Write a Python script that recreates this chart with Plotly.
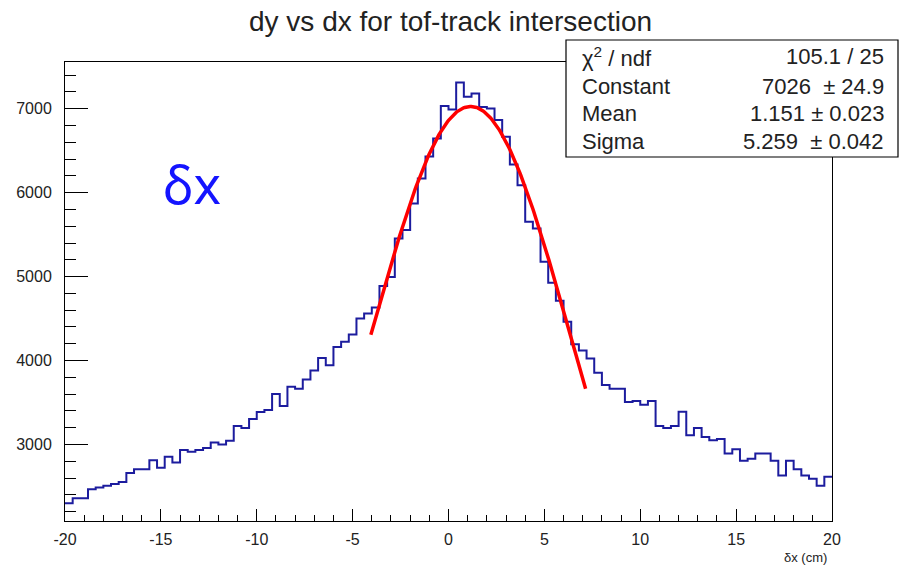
import numpy as np
import plotly.graph_objects as go

# ---------------- data ----------------
x_min, x_max, n_bins = -20.0, 20.0, 100
counts = [2300, 2360, 2360, 2467, 2490, 2510, 2530, 2554, 2661, 2705,
          2705, 2812, 2724, 2855, 2788, 2935, 2914, 2935, 2958, 3026,
          3002, 3045, 3220, 3196, 3304, 3387, 3411, 3601, 3458, 3688,
          3664, 3776, 3883, 4030, 3943, 4161, 4224, 4312, 4502, 4562,
          4633, 4887, 4994, 5455, 5554, 5871, 6169, 6430, 6645, 7030,
          6990, 7312, 7141, 7181, 7020, 7002, 6863, 6664, 6336, 6089,
          5652, 5574, 5176, 4926, 4712, 4462, 4193, 4121, 4026, 3855,
          3708, 3664, 3664, 3506, 3518, 3474, 3518, 3220, 3196, 3220,
          3391, 3110, 3196, 3089, 3050, 3065, 2895, 2943, 2807, 2831,
          2895, 2895, 2807, 2633, 2807, 2705, 2633, 2593, 2510, 2617]

# Gaussian fit parameters (from the stats box)
fit_constant, fit_mean, fit_sigma = 7026.0, 1.151, 5.259
fit_range = [-4.05, 7.15]

stats_labels = ["χ<sup>2</sup> / ndf", "Constant", "Mean", "Sigma"]
stats_values = ["105.1 / 25", "7026  ± 24.9", "1.151 ± 0.023", "5.259  ± 0.042"]

title_text = "dy vs dx for tof-track intersection"
x_title = "δx (cm)"
big_label = "δx"

x_tickvals = [-20, -15, -10, -5, 0, 5, 10, 15, 20]
x_ticktext = ["-20", "-15", "-10", "-5", "0", "5", "10", "15", "20"]
y_tickvals = [3000, 4000, 5000, 6000, 7000]
y_ticktext = ["3000", "4000", "5000", "6000", "7000"]
y_range = [2090, 7555]

# ---------------- figure ----------------
edges = np.linspace(x_min, x_max, n_bins + 1)
step_x = list(edges)
step_y = list(counts) + [counts[-1]]

fx = np.linspace(fit_range[0], fit_range[1], 200)
fy = fit_constant * np.exp(-0.5 * ((fx - fit_mean) / fit_sigma) ** 2)

FONT = "Liberation Sans, Arial, Helvetica, sans-serif"
TXT = "#222222"

fig = go.Figure()
fig.add_trace(go.Scatter(x=step_x, y=step_y, mode="lines", line_shape="hv",
                         line=dict(color="#1c1c9e", width=2), hoverinfo="skip"))
fig.add_trace(go.Scatter(x=fx, y=fy, mode="lines",
                         line=dict(color="#ff0000", width=3.5), hoverinfo="skip"))

W, H = 899, 565
L, R, T, B = 65, 67, 62, 44
pw, ph = W - L - R, H - T - B

def px(xp):
    return (xp - L) / pw

def py(yp):
    return (H - B - yp) / ph

fig.update_layout(
    width=W, height=H, autosize=False,
    margin=dict(l=L, r=R, t=T, b=B, pad=0),
    paper_bgcolor="white", plot_bgcolor="white",
    showlegend=False,
    font=dict(family=FONT, color=TXT),
    xaxis=dict(range=[x_min, x_max], tickvals=x_tickvals, ticktext=x_ticktext,
               ticks="inside", ticklen=12, tickwidth=1, tickcolor="black",
               showline=True, linecolor="black", linewidth=1, mirror=True,
               showgrid=False, zeroline=False,
               tickfont=dict(size=16, family=FONT, color=TXT),
               ticklabelstandoff=4,
               minor=dict(dtick=1, ticks="inside", ticklen=6, tickcolor="black", showgrid=False)),
    yaxis=dict(range=y_range, tickvals=y_tickvals, ticktext=y_ticktext,
               ticks="inside", ticklen=23, tickwidth=1, tickcolor="black",
               showline=True, linecolor="black", linewidth=1, mirror=True,
               showgrid=False, zeroline=False,
               tickfont=dict(size=16, family=FONT, color=TXT),
               ticklabelstandoff=9,
               minor=dict(dtick=200, ticks="inside", ticklen=11, tickcolor="black", showgrid=False)),
)

# stats box
fig.add_shape(type="rect", xref="paper", yref="paper",
              x0=px(566), x1=px(898), y0=py(157), y1=py(40),
              line=dict(color="black", width=1.2), fillcolor="white", layer="above")

row_y = [57, 86, 114, 141]
for lab, val, ry in zip(stats_labels, stats_values, row_y):
    fig.add_annotation(xref="paper", yref="paper", x=px(580), y=py(ry),
                       text=lab, showarrow=False, xanchor="left", yanchor="middle",
                       font=dict(size=22, family=FONT, color=TXT))
    fig.add_annotation(xref="paper", yref="paper", x=px(886), y=py(ry),
                       text=val, showarrow=False, xanchor="right", yanchor="middle",
                       font=dict(size=22, family=FONT, color=TXT))

# title
fig.add_annotation(xref="paper", yref="paper", x=px(450), y=py(21),
                   text=title_text, showarrow=False, xanchor="center", yanchor="middle",
                   font=dict(size=28, family=FONT, color=TXT))

# x-axis title
fig.add_annotation(xref="paper", yref="paper", x=px(829), y=py(557),
                   text=x_title, showarrow=False, xanchor="right", yanchor="middle",
                   font=dict(size=13, family=FONT, color=TXT))

# big δx label
fig.add_annotation(xref="paper", yref="paper", x=px(192), y=py(183),
                   text=big_label, showarrow=False, xanchor="center", yanchor="middle",
                   font=dict(size=52, family="Noto Sans, Open Sans, sans-serif", color="#1414ff"))

fig.write_html("out.html")
